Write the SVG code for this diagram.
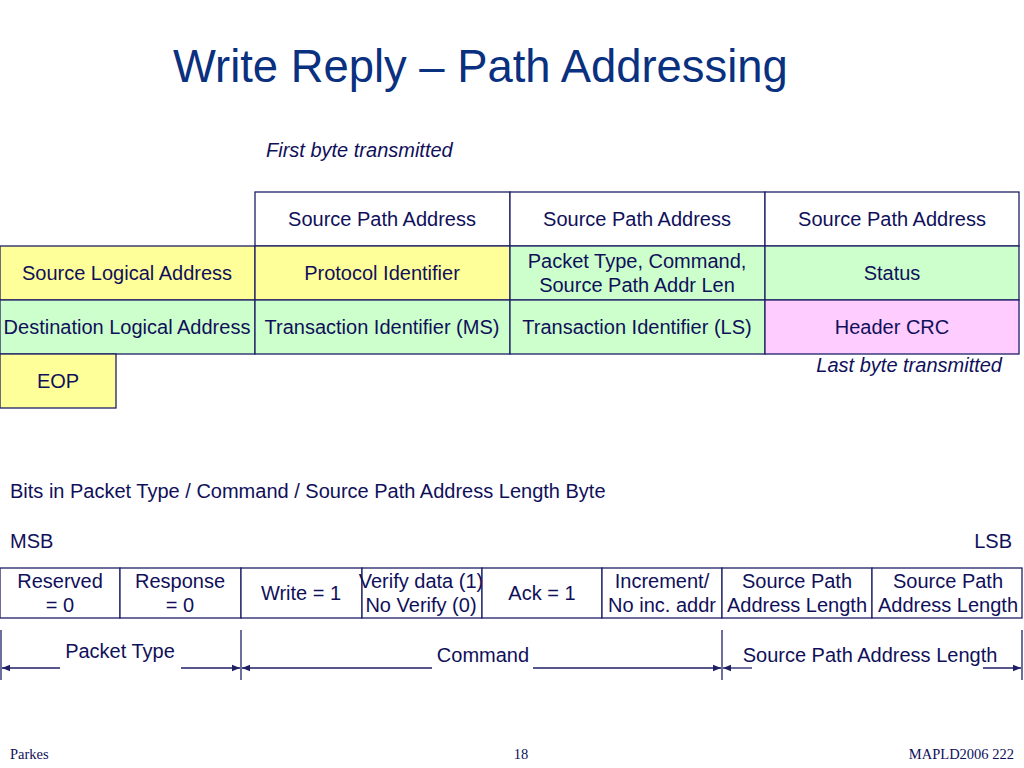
<svg xmlns="http://www.w3.org/2000/svg" width="1024" height="768" viewBox="0 0 1024 768">
<defs>
<style>
text{font-family:"Liberation Sans",Arial,sans-serif;fill:#10105a}
.c{font-size:20px;text-anchor:middle}
.l{font-size:20px}
.i{font-size:20px;font-style:italic}
.f{font-family:"Liberation Serif","Times New Roman",serif;font-size:14.5px}
.cell{stroke:#1f1f66;stroke-width:1.3}
.w{fill:#ffffff}.y{fill:#ffff99}.g{fill:#ccffcc}.p{fill:#ffccff}
.ln{stroke:#1f1f66;stroke-width:1.3;fill:none}
</style>
<marker id="ah" viewBox="0 0 10 10" refX="10" refY="5" markerWidth="8" markerHeight="8" markerUnits="userSpaceOnUse" orient="auto">
<path d="M0,1 L10,5 L0,9 z" fill="#1f1f66"/>
</marker>
</defs>
<rect width="1024" height="768" fill="#ffffff"/>
<text x="173" y="82" style="font-size:45.4px;fill:#0a3080">Write Reply – Path Addressing</text>
<text class="i" x="266" y="157">First byte transmitted</text>
<text class="i" x="1002" y="372" text-anchor="end">Last byte transmitted</text>

<g id="spa1"><rect class="cell w" x="255" y="192" width="255" height="54"/><text class="c" x="382" y="226">Source Path Address</text></g>
<g id="spa2"><rect class="cell w" x="510" y="192" width="255" height="54"/><text class="c" x="637" y="226">Source Path Address</text></g>
<g id="spa3"><rect class="cell w" x="765" y="192" width="254" height="54"/><text class="c" x="892" y="226">Source Path Address</text></g>

<g id="sla"><rect class="cell y" x="0" y="246" width="255" height="54"/><text class="c" x="127" y="280">Source Logical Address</text></g>
<g id="pid"><rect class="cell y" x="255" y="246" width="255" height="54"/><text class="c" x="382" y="280">Protocol Identifier</text></g>
<g id="ptc"><rect class="cell g" x="510" y="246" width="255" height="54"/><text class="c" x="637" y="268">Packet Type, Command,</text><text class="c" x="637" y="292">Source Path Addr Len</text></g>
<g id="status"><rect class="cell g" x="765" y="246" width="254" height="54"/><text class="c" x="892" y="280">Status</text></g>

<g id="dla"><rect class="cell g" x="0" y="300" width="255" height="54"/><text class="c" x="127" y="334">Destination Logical Address</text></g>
<g id="tims"><rect class="cell g" x="255" y="300" width="255" height="54"/><text class="c" x="382" y="334">Transaction Identifier (MS)</text></g>
<g id="tils"><rect class="cell g" x="510" y="300" width="255" height="54"/><text class="c" x="637" y="334">Transaction Identifier (LS)</text></g>
<g id="crc"><rect class="cell p" x="765" y="300" width="254" height="54"/><text class="c" x="892" y="334">Header CRC</text></g>

<g id="eop"><rect class="cell y" x="0" y="354" width="116" height="54"/><text class="c" x="58" y="388">EOP</text></g>

<text class="l" x="10" y="498">Bits in Packet Type / Command / Source Path Address Length Byte</text>
<text class="l" x="10" y="548">MSB</text>
<text class="l" x="1012" y="548" text-anchor="end">LSB</text>

<g id="b7"><rect class="cell w" x="0" y="568" width="120" height="50"/><text class="c" x="60" y="588">Reserved</text><text class="c" x="60" y="612">= 0</text></g>
<g id="b6"><rect class="cell w" x="120" y="568" width="121" height="50"/><text class="c" x="180" y="588">Response</text><text class="c" x="180" y="612">= 0</text></g>
<g id="b5"><rect class="cell w" x="241" y="568" width="121" height="50"/><text class="c" x="301" y="600">Write = 1</text></g>
<g id="b4"><rect class="cell w" x="362" y="568" width="120" height="50"/><text class="c" x="421" y="588">Verify data (1)</text><text class="c" x="421" y="612">No Verify (0)</text></g>
<g id="b3"><rect class="cell w" x="482" y="568" width="120" height="50"/><text class="c" x="542" y="600">Ack = 1</text></g>
<g id="b2"><rect class="cell w" x="602" y="568" width="120" height="50"/><text class="c" x="662" y="588">Increment/</text><text class="c" x="662" y="612">No inc. addr</text></g>
<g id="b1"><rect class="cell w" x="722" y="568" width="150" height="50"/><text class="c" x="797" y="588">Source Path</text><text class="c" x="797" y="612">Address Length</text></g>
<g id="b0"><rect class="cell w" x="872" y="568" width="150" height="50"/><text class="c" x="948" y="588">Source Path</text><text class="c" x="948" y="612">Address Length</text></g>

<g id="connectors">
<line class="ln" x1="1" y1="630" x2="1" y2="680"/>
<line class="ln" x1="241" y1="630" x2="241" y2="680"/>
<line class="ln" x1="722" y1="630" x2="722" y2="680"/>
<line class="ln" x1="1022" y1="630" x2="1022" y2="680"/>
<line class="ln" x1="60" y1="668" x2="2" y2="668" marker-end="url(#ah)"/>
<line class="ln" x1="181" y1="668" x2="240" y2="668" marker-end="url(#ah)"/>
<line class="ln" x1="432" y1="668" x2="242" y2="668" marker-end="url(#ah)"/>
<line class="ln" x1="533" y1="668" x2="721" y2="668" marker-end="url(#ah)"/>
<line class="ln" x1="752" y1="668" x2="723" y2="668" marker-end="url(#ah)"/>
<line class="ln" x1="983" y1="668" x2="1021" y2="668" marker-end="url(#ah)"/>
</g>
<text class="c" x="120" y="658">Packet Type</text>
<text class="c" x="483" y="662">Command</text>
<text class="c" x="870" y="662">Source Path Address Length</text>

<text class="f" x="10" y="759">Parkes</text>
<text class="f" x="521" y="759" text-anchor="middle">18</text>
<text class="f" x="1014" y="759" text-anchor="end">MAPLD2006 222</text>
</svg>
